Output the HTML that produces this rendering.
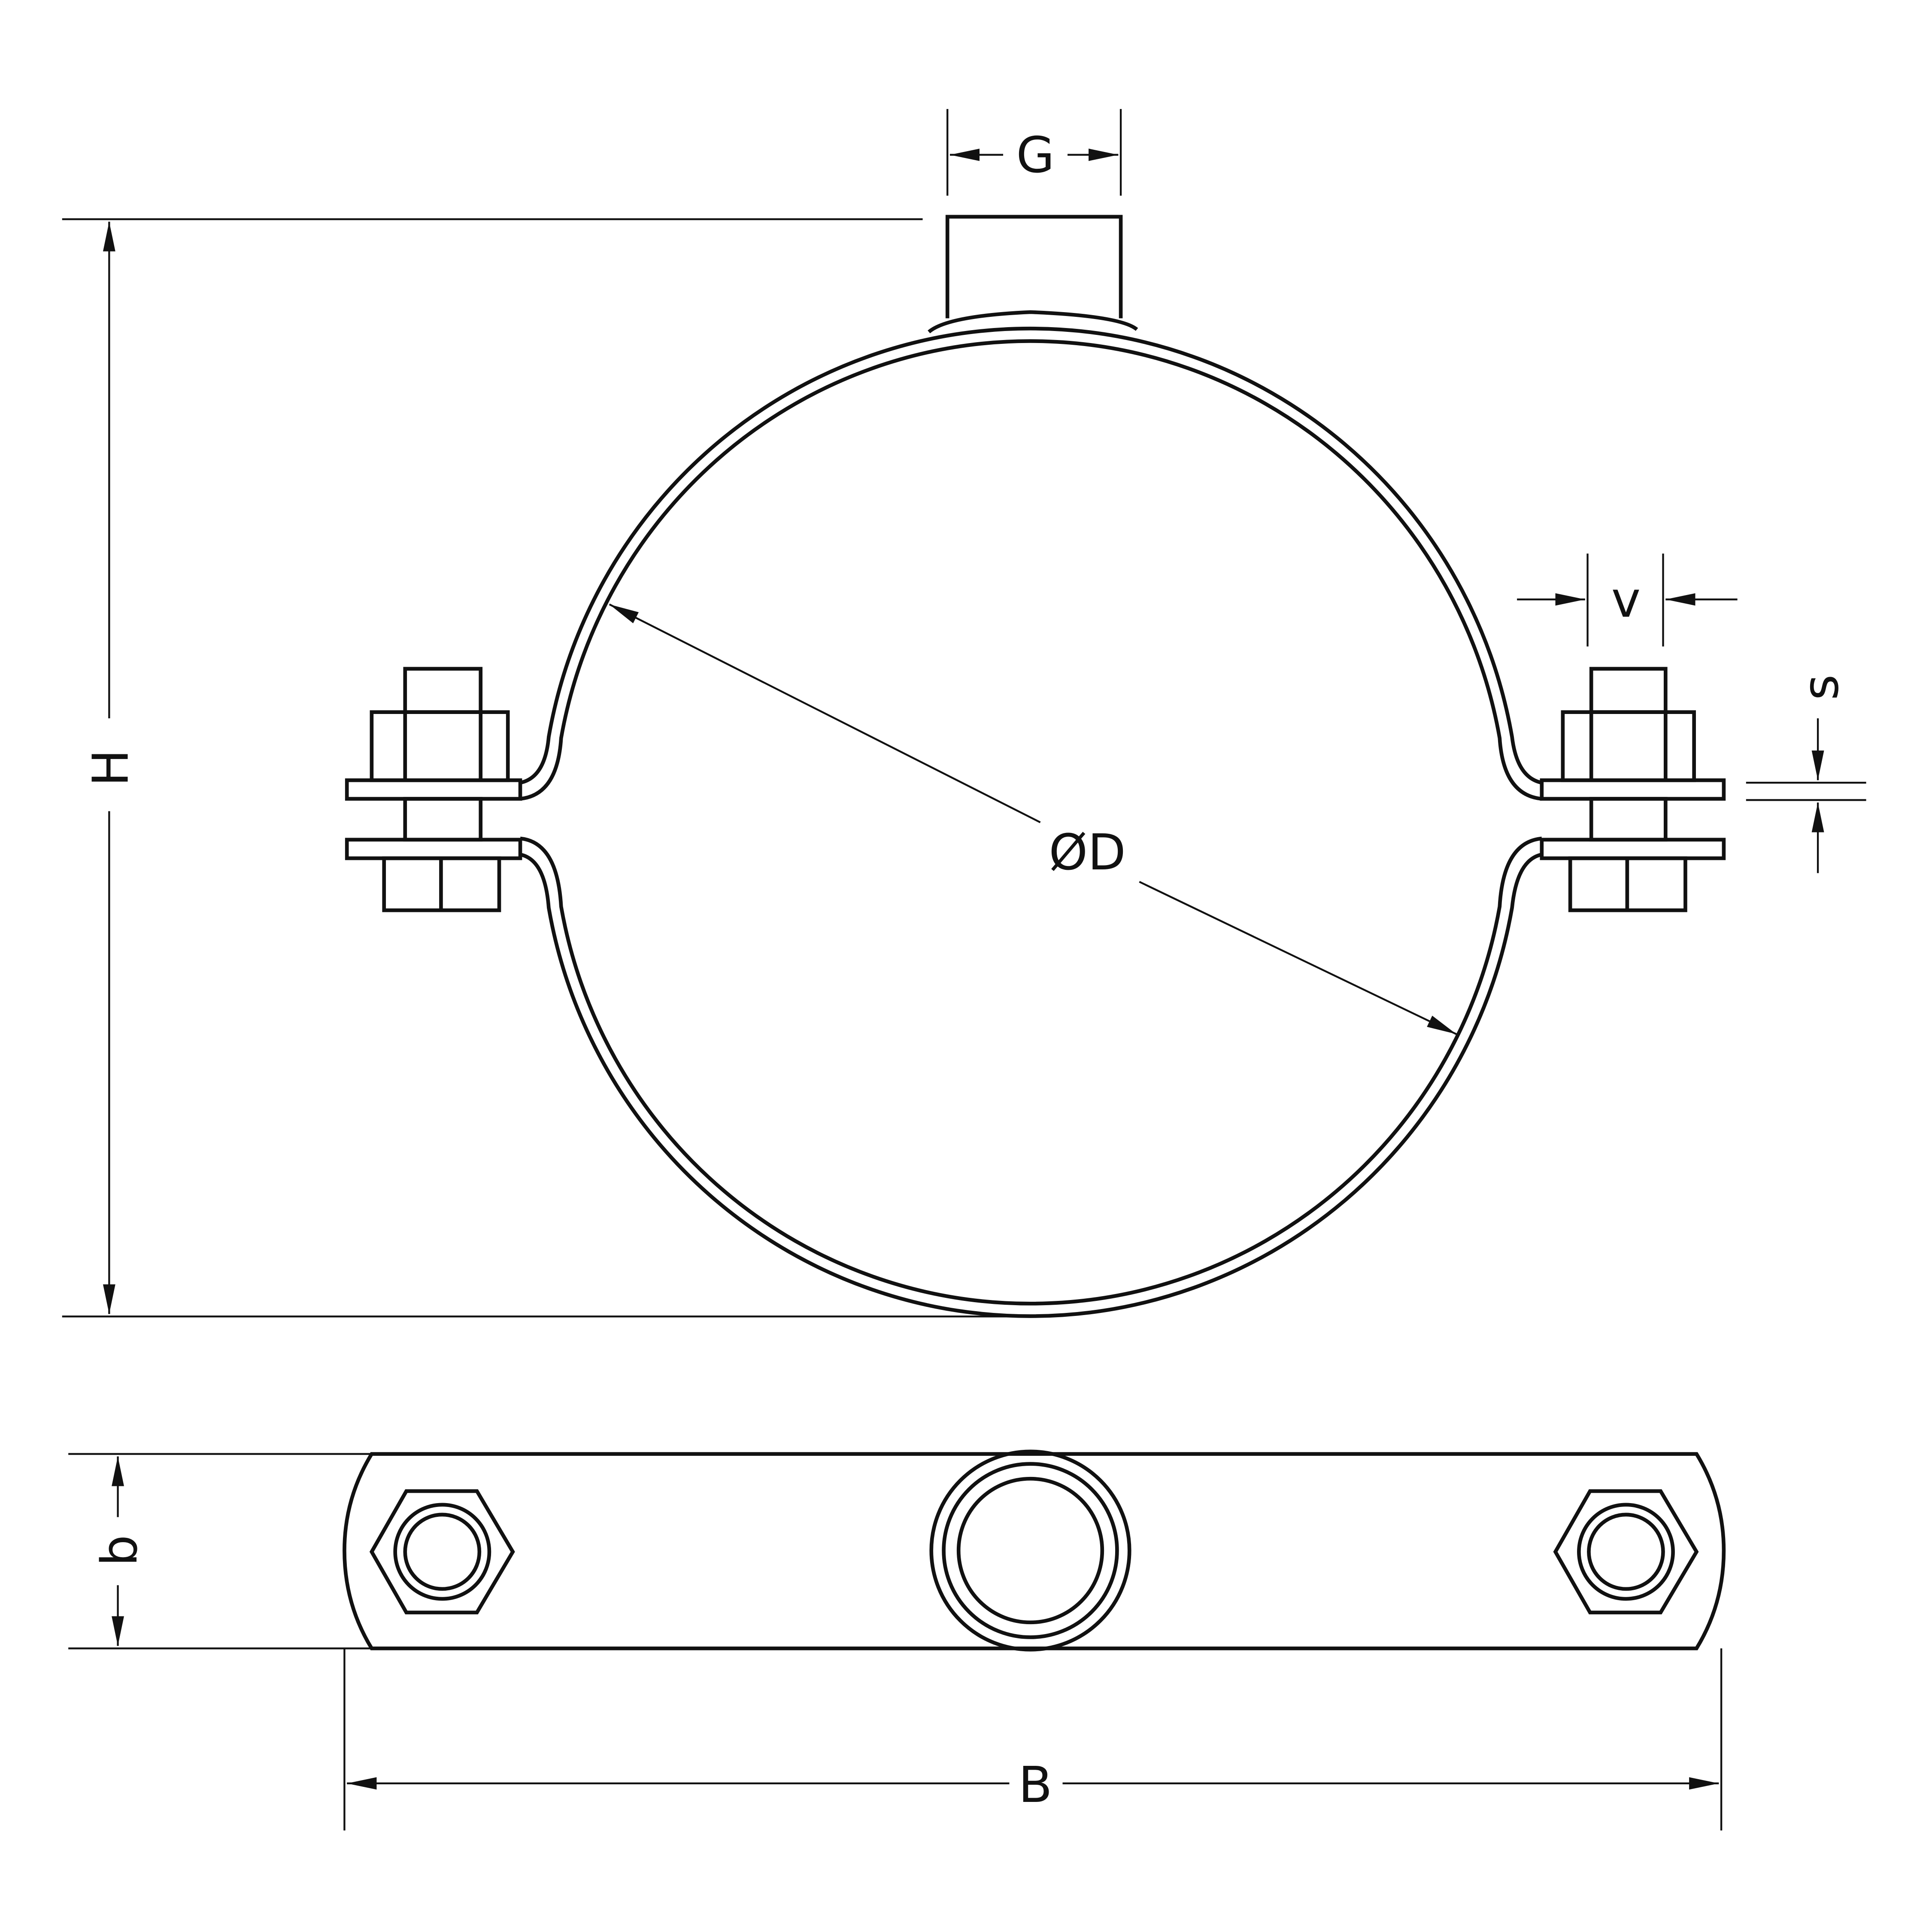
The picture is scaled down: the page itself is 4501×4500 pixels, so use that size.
<!DOCTYPE html>
<html><head><meta charset="utf-8"><style>
html,body{margin:0;padding:0;background:#fff}
svg{display:block}
text{font-family:"DejaVu Sans","Liberation Sans",sans-serif;font-size:40px;fill:#111}
</style></head><body>
<svg width="4501" height="4500" viewBox="0 0 1560 1560" xmlns="http://www.w3.org/2000/svg">
<defs>
<marker id="b" markerWidth="24" markerHeight="10" refX="24" refY="5" orient="auto-start-reverse" markerUnits="userSpaceOnUse" viewBox="0 0 24 10"><path d="M0,0 L24,5 L0,10 Z" fill="#111"/></marker>
</defs>
<g fill="none" stroke="#111" stroke-width="1.5">
<line x1="50" y1="177" x2="745" y2="177"/>
<line x1="50" y1="1063" x2="815" y2="1063"/>
<line x1="88" y1="580" x2="88" y2="179" marker-end="url(#b)"/>
<line x1="88" y1="655" x2="88" y2="1061" marker-end="url(#b)"/>
<line x1="765" y1="88" x2="765" y2="158"/>
<line x1="905" y1="88" x2="905" y2="158"/>
<line x1="810" y1="125" x2="767" y2="125" marker-end="url(#b)"/>
<line x1="862" y1="125" x2="903" y2="125" marker-end="url(#b)"/>
<line x1="840" y1="664" x2="492" y2="488" marker-end="url(#b)"/>
<line x1="920" y1="712" x2="1176" y2="835" marker-end="url(#b)"/>
<line x1="1282" y1="447" x2="1282" y2="522"/>
<line x1="1343" y1="447" x2="1343" y2="522"/>
<line x1="1225" y1="484" x2="1280" y2="484" marker-end="url(#b)"/>
<line x1="1403" y1="484" x2="1345" y2="484" marker-end="url(#b)"/>
<line x1="1410" y1="632" x2="1507" y2="632"/>
<line x1="1410" y1="646" x2="1507" y2="646"/>
<line x1="1468" y1="580" x2="1468" y2="630" marker-end="url(#b)"/>
<line x1="1468" y1="705" x2="1468" y2="648" marker-end="url(#b)"/>
<line x1="55" y1="1174" x2="300" y2="1174"/>
<line x1="55" y1="1331" x2="300" y2="1331"/>
<line x1="95" y1="1225" x2="95" y2="1176" marker-end="url(#b)"/>
<line x1="95" y1="1280" x2="95" y2="1329" marker-end="url(#b)"/>
<line x1="278" y1="1331" x2="278" y2="1478"/>
<line x1="1390" y1="1331" x2="1390" y2="1478"/>
<line x1="815" y1="1440" x2="280" y2="1440" marker-end="url(#b)"/>
<line x1="858" y1="1440" x2="1388" y2="1440" marker-end="url(#b)"/>
</g>
<g fill="none" stroke="#111" stroke-width="3">
<path d="M765,257 L765,175 L905,175 L905,257"/>
<path d="M750,268 Q765,255 832,252 Q905,255 918,266"/>
<path d="M420,632 Q440,628 443,595 A395,399 0 0 1 1221,595 Q1225,628 1245,632"/>
<path d="M420,690 Q440,694 443,733 A395,399 0 0 0 1221,733 Q1225,694 1245,690"/>
<path d="M420,645 Q450,642 453,596 A385,389 0 0 1 1211,596 Q1214,642 1245,645"/>
<path d="M420,677 Q450,680 453,732 A385,389 0 0 0 1211,732 Q1214,680 1245,677"/>
<rect x="280" y="630" width="140" height="15"/>
<rect x="280" y="678" width="140" height="15"/>
<rect x="300" y="575" width="110" height="55"/>
<line x1="327" y1="575" x2="327" y2="630"/><line x1="388" y1="575" x2="388" y2="630"/>
<rect x="327" y="540" width="61" height="35"/>
<rect x="327" y="645" width="61" height="33"/>
<rect x="310" y="693" width="93" height="42"/>
<line x1="356" y1="693" x2="356" y2="735"/>
<rect x="1245" y="630" width="147" height="15"/>
<rect x="1245" y="678" width="147" height="15"/>
<rect x="1262" y="575" width="106" height="55"/>
<line x1="1285" y1="575" x2="1285" y2="630"/><line x1="1345" y1="575" x2="1345" y2="630"/>
<rect x="1285" y="540" width="60" height="35"/>
<rect x="1285" y="645" width="60" height="33"/>
<rect x="1268" y="693" width="93" height="42"/>
<line x1="1314" y1="693" x2="1314" y2="735"/>
<path d="M300,1174 L1370,1174 Q1392,1210 1392,1252 Q1392,1295 1370,1331 L300,1331 Q278,1295 278,1252 Q278,1210 300,1174 Z"/>
<polygon points="414,1253 385,1302 328,1302 300,1253 328,1204 385,1204"/>
<circle cx="357" cy="1253" r="38"/><circle cx="357" cy="1253" r="30"/>
<polygon points="1370,1253 1341,1302 1284,1302 1256,1253 1284,1204 1341,1204"/>
<circle cx="1313" cy="1253" r="38"/><circle cx="1313" cy="1253" r="30"/>
<circle cx="832" cy="1252" r="80"/><circle cx="832" cy="1252" r="70"/><circle cx="832" cy="1252" r="58"/>
</g>
<text x="836" y="139" text-anchor="middle">G</text>
<text x="878" y="702" text-anchor="middle">ØD</text>
<text x="1313" y="498" text-anchor="middle">v</text>
<text x="836" y="1455" text-anchor="middle">B</text>
<text transform="translate(103,620) rotate(-90)" text-anchor="middle">H</text>
<text transform="translate(110,1252) rotate(-90)" text-anchor="middle">b</text>
<text transform="translate(1484,555) rotate(-90)" text-anchor="middle">s</text>
</svg>
</body></html>
